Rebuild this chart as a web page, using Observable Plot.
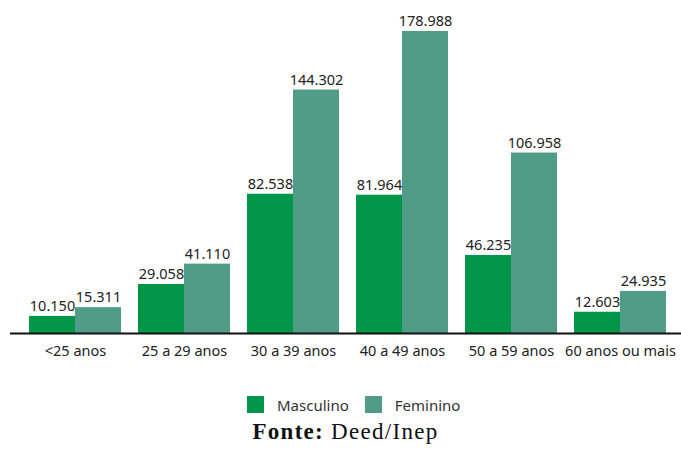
<!DOCTYPE html>
<html>
<head>
<meta charset="utf-8">
<script src="https://cdn.jsdelivr.net/npm/d3@7"></script>
<script src="https://cdn.jsdelivr.net/npm/@observablehq/plot@0.6"></script>
<style>
  html, body { margin: 0; padding: 0; background: #fff; }
  body { width: 681px; height: 450px; overflow: hidden; font-family: "Noto Sans", sans-serif; }
  #chart svg { display: block; }
  .legend { display: flex; justify-content: flex-start; align-items: center; margin-left: 247px; margin-top: 26px; height: 17px; font-size: 15px; color: #333; }
  .sw { width: 17px; height: 17px; display: inline-block; }
  .legend span.t { margin-left: 13px; margin-right: 16px; }
  .caption { text-align: center; font-family: "Liberation Serif", serif; font-size: 23px; letter-spacing: 1.3px; color: #111; margin-top: 6px; padding-left: 10px; white-space: nowrap; }
</style>
</head>
<body>
<div id="chart"></div>
<div class="legend">
  <span class="sw" style="background:#00964a"></span><span class="t">Masculino</span>
  <span class="sw" style="background:#519c87"></span><span class="t">Feminino</span>
</div>
<div class="caption"><b>Fonte:</b> Deed/Inep</div>
<script>
const categories = ["<25 anos", "25 a 29 anos", "30 a 39 anos", "40 a 49 anos", "50 a 59 anos", "60 anos ou mais"];
const series = ["Masculino", "Feminino"];
const masculino = [10150, 29058, 82538, 81964, 46235, 12603];
const feminino = [15311, 41110, 144302, 178988, 106958, 24935];
const colors = ["#00964a", "#519c87"];

const fmt = d3.formatLocale({decimal: ",", thousands: ".", grouping: [3], currency: ["", ""]}).format(",d");

const rows = [];
categories.forEach((c, i) => {
  rows.push({cat: c, sexo: series[0], v: masculino[i]});
  rows.push({cat: c, sexo: series[1], v: feminino[i]});
});
const masc = rows.filter(d => d.sexo === series[0]);
const fem = rows.filter(d => d.sexo === series[1]);

const chart = Plot.plot({
  width: 681,
  height: 370,
  marginTop: 31,
  marginBottom: 37,
  marginLeft: 10,
  marginRight: 0,
  style: {fontFamily: "Noto Sans", fontSize: "14.5px", color: "#222"},
  x: {domain: categories, range: [20.5, 674.5], round: false, paddingInner: 17/109, paddingOuter: 8.5/109, label: null, tickSize: 0, tickPadding: 12},
  y: {domain: [0, d3.max(feminino)], axis: null},
  color: {domain: series, range: colors},
  marks: [
    Plot.barY(masc, {x: "cat", y: "v", fill: colors[0], insetRight: 46}),
    Plot.barY(fem, {x: "cat", y: "v", fill: colors[1], insetLeft: 46}),
    Plot.text(masc, {x: "cat", y: "v", text: d => fmt(d.v), dx: -23, dy: -10, fontSize: 14.5, fill: "#222"}),
    Plot.text(fem, {x: "cat", y: "v", text: d => fmt(d.v), dx: 23, dy: -10, fontSize: 14.5, fill: "#222"}),
    Plot.ruleY([0], {stroke: "#111", strokeWidth: 2})
  ]
});
document.getElementById("chart").appendChild(chart);
</script>
</body>
</html>
